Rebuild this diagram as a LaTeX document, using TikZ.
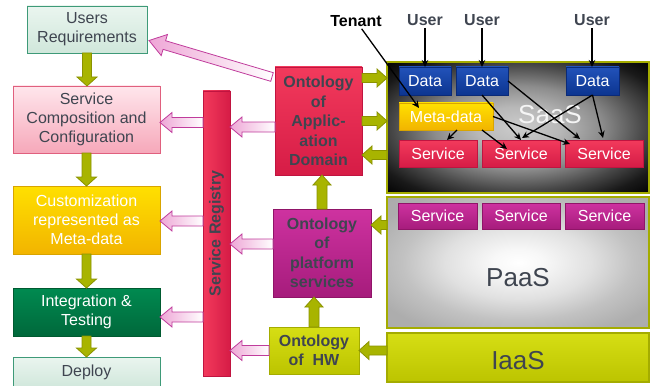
\documentclass[tikz,border=0pt]{standalone}
\usepackage{fontspec}
\setmainfont{Liberation Sans}
\usetikzlibrary{calc,arrows.meta}

\definecolor{txtdark}{HTML}{3F4550}
\definecolor{ureqtop}{HTML}{EAF5EF}
\definecolor{ureqbot}{HTML}{D0E7DB}
\definecolor{ureqline}{HTML}{3E9A78}
\definecolor{comptop}{HTML}{FFE6EC}
\definecolor{compbot}{HTML}{F6A8BA}
\definecolor{compline}{HTML}{E0607E}
\definecolor{goldtop}{HTML}{FFE000}
\definecolor{goldbot}{HTML}{F2B400}
\definecolor{goldline}{HTML}{D8A400}
\definecolor{greentop}{HTML}{008A50}
\definecolor{greenbot}{HTML}{00683B}
\definecolor{greenline}{HTML}{005A30}
\definecolor{redtop}{HTML}{F23A5C}
\definecolor{redbot}{HTML}{D61C46}
\definecolor{redline}{HTML}{C01440}
\definecolor{magtop}{HTML}{CE32A0}
\definecolor{magbot}{HTML}{A61C7C}
\definecolor{magline}{HTML}{901468}
\definecolor{limetop}{HTML}{D6DE14}
\definecolor{limebot}{HTML}{BCC400}
\definecolor{limeline}{HTML}{A4AC00}
\definecolor{bluetop}{HTML}{2252BA}
\definecolor{bluebot}{HTML}{0C3590}
\definecolor{blueline}{HTML}{0A2A78}
\definecolor{olivefill}{HTML}{A8B400}
\definecolor{oliveline}{HTML}{8A9200}
\definecolor{pinkfill}{HTML}{EEA6D6}
\definecolor{pinkline}{HTML}{C03C9C}

% radial fills of the two upper cloud layers
\pgfdeclareradialshading{saasglow}{\pgfpoint{0bp}{0bp}}{%
  color(0bp)=(white!80!black); color(8bp)=(white!72!black);
  color(16bp)=(white!55!black); color(24bp)=(white!28!black);
  color(30bp)=(white!10!black); color(36bp)=(black); color(50bp)=(black)}
\pgfdeclareradialshading{paasglow}{\pgfpoint{0bp}{0bp}}{%
  color(0bp)=(white); color(5bp)=(white!97!black);
  color(14bp)=(white!88!black); color(22bp)=(white!76!black);
  color(30bp)=(white!68!black); color(50bp)=(white!66!black)}

% box placed by its corners (x1,y1)-(x2,y2), y growing downwards
\newcommand{\placebox}[7]{%
  \node[#2, anchor=north west, minimum width={#5pt-#3pt},
        minimum height={#6pt-#4pt}] (#1) at (#3,#4) {#7};}

% flat block arrow: style, from, to, shaft half width, head half width, head length
\newcommand{\flatarrow}[6]{%
  \coordinate (flatarrowbase) at ($(#3)!#6!(#2)$);
  \path[#1] ($(#2)!#4!90:(#3)$)
    -- ($(flatarrowbase)!#4!90:(#3)$)
    -- ($(flatarrowbase)!#5!90:(#3)$)
    -- (#3)
    -- ($(flatarrowbase)!#5!-90:(#3)$)
    -- ($(flatarrowbase)!#4!-90:(#3)$)
    -- ($(#2)!#4!-90:(#3)$) -- cycle;}

\begin{document}
\begin{tikzpicture}[x=1pt,y=-1pt,
  box/.style={inner sep=1pt, outer sep=0pt, line width=0.8pt, align=center,
              font=\fontsize{16}{19}\selectfont},
  ontbox/.style={box, text=txtdark, font=\fontsize{16}{19.5}\selectfont\bfseries},
  lightgreen/.style={box, draw=ureqline, top color=ureqtop, bottom color=ureqbot, text=txtdark},
  pinkbox/.style={box, draw=compline, top color=comptop, bottom color=compbot, text=txtdark},
  goldbox/.style={box, draw=goldline, top color=goldtop, bottom color=goldbot, text=white},
  greenbox/.style={box, draw=greenline, top color=greentop, bottom color=greenbot, text=white},
  redbox/.style={box, draw=redline, top color=redtop, bottom color=redbot},
  magbox/.style={box, draw=magline, top color=magtop, bottom color=magbot},
  limebox/.style={box, draw=limeline, top color=limetop, bottom color=limebot},
  bluebox/.style={box, draw=blueline, top color=bluetop, bottom color=bluebot, text=white},
  layer/.style={box, draw=limeline, line width=1.6pt},
  olivearrow/.style={draw=oliveline, line width=0.8pt, fill=olivefill},
  pinkarrow/.style={draw=pinkline, line width=0.8pt, left color=pinkfill, right color=white},
  link/.style={line width=1.3pt, -{Stealth[length=7pt,width=6.5pt]}},
  toplabel/.style={font=\fontsize{16}{19}\selectfont\bfseries, inner sep=2pt},
  biglabel/.style={font=\fontsize{26}{30}\selectfont}
]
\useasboundingbox (0,0) rectangle (652,385);

% ---------- development process (left column) ----------
\placebox{ureq}{lightgreen}{27}{6}{147}{53}{Users\\Requirements}
\placebox{comp}{pinkbox}{13}{86}{160}{153}{Service\\Composition and\\Configuration}
\placebox{cust}{goldbox}{13}{186}{160}{254}{Customization\\represented as\\Meta-data}
\placebox{integ}{greenbox}{13}{288}{160}{336}{Integration \&\\Testing}
\placebox{deploy}{lightgreen}{13}{357}{160}{388}{Deploy}

\flatarrow{olivearrow}{ureq.south}{ureq.south |- comp.north}{4.5pt}{10pt}{9pt}
\flatarrow{olivearrow}{comp.south}{comp.south |- cust.north}{4.5pt}{10pt}{9pt}
\flatarrow{olivearrow}{cust.south}{cust.south |- integ.north}{4.5pt}{10pt}{9pt}
\flatarrow{olivearrow}{integ.south}{integ.south |- deploy.north}{4.5pt}{10pt}{9pt}

% ---------- service registry ----------
\node[box, draw=redline, left color=redtop, right color=redbot, anchor=north west,
      minimum width=27pt, minimum height=285pt] (reg) at (203,91) {};
\node[rotate=90, text=txtdark, font=\fontsize{16}{19}\selectfont\bfseries] (reglabel)
  at (reg.center) {Service Registry};

% ---------- ontologies ----------
\placebox{app}{redbox, ontbox}{275}{67}{362}{175}{Ontology\\of\\Applic-\\ation\\Domain}
\placebox{plat}{magbox, ontbox}{273}{209}{371}{297}{Ontology\\of\\platform\\services}
\placebox{hw}{limebox, ontbox}{269}{327}{359}{374}{Ontology\\of~ HW}

% ---------- cloud layers ----------
\node[layer, anchor=north west, minimum width=262pt, minimum height=131pt,
      shading=saasglow] (saas) at (387,62) {};
\node[biglabel, text=white!92!gray] (saaslabel) at (550,115) {SaaS};
\node[layer, anchor=north west, minimum width=262pt, minimum height=131pt,
      shading=paasglow] (paas) at (387,197) {};
\node[biglabel, text=txtdark] (paaslabel) at (518,278) {PaaS};
\node[layer, anchor=north west, minimum width=262pt, minimum height=49pt,
      top color=limetop, bottom color=limebot] (iaas) at (387,333) {};
\node[biglabel, text=txtdark] (iaaslabel) at (518,361) {IaaS};

% SaaS content
\placebox{d1}{bluebox}{399}{67}{451}{95}{Data}
\placebox{d2}{bluebox}{456}{67}{508}{95}{Data}
\placebox{d3}{bluebox}{566}{67}{619}{95}{Data}
\placebox{meta}{goldbox}{399}{103}{493}{130}{Meta-data}
\placebox{s1}{redbox, text=white}{399}{140}{477}{167}{Service}
\placebox{s2}{redbox, text=white}{482}{140}{560}{167}{Service}
\placebox{s3}{redbox, text=white}{565}{140}{643}{167}{Service}

% PaaS content
\placebox{p1}{magbox, text=white}{398}{203}{477}{229}{Service}
\placebox{p2}{magbox, text=white}{482}{203}{560}{229}{Service}
\placebox{p3}{magbox, text=white}{565}{203}{644}{229}{Service}

% ---------- tenants and users ----------
\node[toplabel, text=black] (tenant) at (356,21) {Tenant};
\node[toplabel, text=txtdark] (u1) at (425,20) {User};
\node[toplabel, text=txtdark] (u2) at (482,20) {User};
\node[toplabel, text=txtdark] (u3) at (592,20) {User};

\draw[link] (u1.south) -- (u1.south |- d1.north);
\draw[link] (u2.south) -- (u2.south |- d2.north);
\draw[link] (u3.south) -- (u3.south |- d3.north);
\draw[link] (tenant) -- ($(meta.north west)+(20,5)$);

% data and meta-data feeding the services
\draw[link] ($(meta.south west)+(58,0)$) -- ($(s1.north west)+(48,0)$);
\draw[link] ($(meta.south west)+(83,0)$) -- ($(s2.north west)+(25,9)$);
\draw[link] (meta.east) -- ($(s3.north west)+(5,4)$);
\draw[link] (d2.south) -- (s2.north);
\draw[link] (d2.east) -- ($(s3.north west)+(15,-1)$);
\draw[link] (d3.south) -- ($(s2.north)+(1,-2)$);
\draw[link] (d3.south) -- ($(s3.north)+(-1,-2)$);

% ---------- ontologies and layers ----------
\coordinate (appin1) at ($(app.north east)+(0,11)$);
\coordinate (appin2) at (app.east);
\coordinate (appout) at ($(app.south east)+(0,-20)$);
\coordinate (platin) at ($(plat.north east)+(0,16)$);
\flatarrow{olivearrow}{appin1}{saas.west |- appin1}{4.5pt}{9pt}{10pt}
\flatarrow{olivearrow}{appin2}{saas.west |- appin2}{4.5pt}{9pt}{10pt}
\flatarrow{olivearrow}{saas.west |- appout}{appout}{4.5pt}{9pt}{10pt}
\flatarrow{olivearrow}{paas.west |- platin}{platin}{4.5pt}{9pt}{10pt}
\flatarrow{olivearrow}{iaas.west |- hw.east}{hw.east}{4.5pt}{9pt}{10pt}
\flatarrow{olivearrow}{plat.north}{plat.north |- app.south}{5pt}{9pt}{10pt}
\flatarrow{olivearrow}{hw.north}{hw.north |- plat.south}{5pt}{9pt}{10pt}

% ---------- registry links ----------
\coordinate (compin) at ($(comp.east)+(0,3)$);
\coordinate (custin) at ($(cust.east)+(0,1)$);
\coordinate (integin) at ($(integ.east)+(0,5)$);
\coordinate (appreg) at ($(app.west)+(0,6)$);
\coordinate (platreg) at ($(plat.west)+(0,-9)$);
\flatarrow{pinkarrow}{reg.west |- compin}{compin}{5pt}{10pt}{12pt}
\flatarrow{pinkarrow}{reg.west |- custin}{custin}{5pt}{10pt}{12pt}
\flatarrow{pinkarrow}{reg.west |- integin}{integin}{5pt}{10pt}{12pt}
\flatarrow{pinkarrow}{appreg}{reg.east |- appreg}{5pt}{10pt}{12pt}
\flatarrow{pinkarrow}{platreg}{reg.east |- platreg}{5pt}{10pt}{12pt}
\flatarrow{pinkarrow}{hw.west}{reg.east |- hw.west}{5pt}{10pt}{12pt}

\coordinate (appdiag) at ($(app.north west)+(-3,10)$);
\coordinate (ureqtip) at ($(ureq.east)+(2,11)$);
\flatarrow{pinkarrow}{appdiag}{ureqtip}{4.5pt}{11pt}{16pt}
\end{tikzpicture}
\end{document}
